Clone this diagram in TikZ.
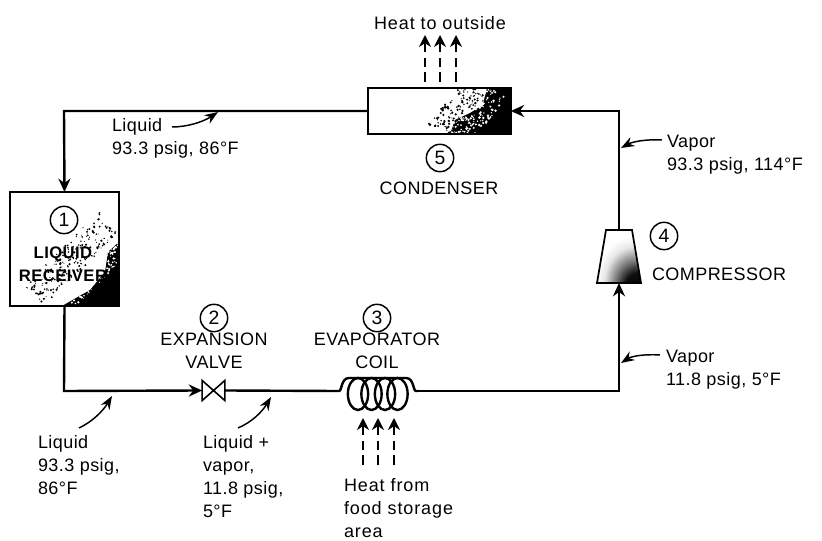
\documentclass[tikz,border=0pt]{standalone}
\usepackage{fontspec}
\setmainfont[LetterSpace=2.5]{Liberation Sans}
\newfontfamily\widefont[LetterSpace=5]{Liberation Sans}
\usetikzlibrary{arrows.meta,calc}
\pgfdeclareradialshading{smalldark}{\pgfpoint{25bp}{-36bp}}{
  rgb(0bp)=(0,0,0); rgb(15bp)=(.05,.05,.05); rgb(24bp)=(.5,.5,.5); rgb(33bp)=(.9,.9,.9); rgb(40bp)=(1,1,1); rgb(100bp)=(1,1,1)}
\begin{document}
\begin{tikzpicture}[x=.75pt,y=-.75pt,
  every node/.style={inner sep=0pt,outer sep=0pt},
  txt/.style={font=\fontsize{13.5}{17.4}\selectfont,align=left,text=black},
  widetxt/.style={font=\fontsize{13.5}{17.4}\selectfont\widefont,align=left,text=black},
  ctr/.style={font=\fontsize{13.5}{17.4}\selectfont,align=center},
  numc/.style={draw,circle,line width=1.1pt,minimum size=20.5pt,font=\fontsize{14.5}{14.5}\selectfont},
  pipe/.style={line width=1.8pt,line join=miter},
  flow/.style={pipe,-{Stealth[length=10pt,width=9pt]}},
  pointer/.style={line width=1.1pt,-{Stealth[length=10pt,width=7.5pt]}},
  heatdash/.style={line width=2pt,dash pattern=on 7.5pt off 3.5pt},
  heattip/.style={line width=1.8pt,-{Stealth[length=9pt,width=9pt]}},
  unit/.style={draw,line width=1.3pt},
  speck/.style={fill=black},
  wspeck/.style={fill=white}]
\useasboundingbox (0,0) rectangle (822,541);
\pgfmathsetseed{4217}
% condenser
\node[unit,fill=white,minimum width=107pt,minimum height=34.5pt] (cond) at (439.5,111) {};
\begin{scope}
  \clip (cond.north west) rectangle (cond.south east);
  \fill[black] (450,134) -- (455,120) -- (470,113) -- (483,105) -- (487,88) -- (511,88) -- (511,134) -- cycle;
  \foreach \i in {1,...,150}{
    \pgfmathsetmacro{\t}{rnd}
    \pgfmathsetmacro{\s}{rnd*26-4}
    \pgfmathsetmacro{\r}{.35+rnd*.7}
    \pgfmathsetmacro{\px}{488-\t*38-\s}
    \pgfmathsetmacro{\py}{88+\t*46-\s*.45}
    \fill[speck] (\px,\py) circle (\r pt);
    \pgfmathsetmacro{\t}{rnd}
    \pgfmathsetmacro{\s}{rnd*24-4}
    \pgfmathsetmacro{\qx}{488-\t*38+\s}
    \pgfmathsetmacro{\qy}{88+\t*46+\s*.45}
    \fill[wspeck] (\qx,\qy) circle (\r pt);
  }
\end{scope}
\draw[line width=1.3pt] (cond.north west) rectangle (cond.south east);
% receiver
\node[unit,fill=white,minimum width=82pt,minimum height=85.5pt] (recv) at (64.5,249) {};
\begin{scope}
  \clip (recv.north west) rectangle (recv.south east);
  \fill[black] (119,242) -- (108,252) -- (105,272) -- (90,290) -- (62,306) -- (119,306) -- cycle;
  \foreach \i in {1,...,210}{
    \pgfmathsetmacro{\t}{rnd}
    \pgfmathsetmacro{\s}{rnd*20-20}
    \pgfmathsetmacro{\r}{.35+rnd*.6}
    \pgfmathsetmacro{\px}{119-\t*75+\s}
    \pgfmathsetmacro{\py}{232+\t*74+\s}
    \fill[speck] (\px,\py) circle (\r pt);
    \pgfmathsetmacro{\t}{rnd}
    \pgfmathsetmacro{\s}{rnd*16}
    \pgfmathsetmacro{\qx}{119-\t*75+\s}
    \pgfmathsetmacro{\qy}{232+\t*74+\s}
    \fill[wspeck] (\qx,\qy) circle (\r pt);
  }
\end{scope}
\draw[line width=1.3pt] (recv.north west) rectangle (recv.south east);
% compressor and valve
\node[minimum width=33pt,minimum height=39.7pt] (comp) at (619,256.5) {};
\draw[unit,shading=smalldark] (comp.south west) -- (comp.south east) -- ($(comp.north east)+(-9,0)$) -- ($(comp.north west)+(9,0)$) -- cycle;
\node[minimum width=17pt,minimum height=15pt] (valve) at (213.5,390.5) {};
\draw[line width=1.2pt] (valve.north west) -- (valve.south east) -- (valve.north east) -- (valve.south west) -- cycle;
% coil
\coordinate (coilL) at (337,391);
\coordinate (coilR) at (418,391);
\foreach \cx in {358,371.5,385,397.5}
  \draw[line width=1.8pt] (\cx,394) ellipse [x radius=7.6pt,y radius=12pt];
\draw[pipe] (coilL) -- (339,391) .. controls (342,391) and (341,378) .. (349,378) -- (406,378) .. controls (414,378) and (413,391) .. (416,391) -- (coilR);
% corners
\coordinate (tl) at (64,111);
\coordinate (bl) at (64,391);
\coordinate (br) at (619,391);
\coordinate (tr) at (619,111);
% loop
\draw[flow] (cond.west) -- (tl) -- (recv.north);
\draw[flow] (recv.south) -- (bl) -- (valve.west);
\draw[pipe] (valve.east) -- (coilL);
\draw[flow] (coilR) -- (br) -- (comp.south);
\draw[flow] (comp.north) -- (tr) -- (cond.east);
% number circles and names
\node[numc] (n1) at (64,220) {1};
\node[ctr,font=\fontsize{12.5}{17.4}\selectfont\bfseries] (recvname) at (63,264) {LIQUID\\RECEIVER};
\node[numc] (n2) at (214,318) {2};
\node[ctr] (valvename) at (214,351) {EXPANSION\\VALVE};
\node[numc] (n3) at (377,318) {3};
\node[ctr] (coilname) at (377,351) {EVAPORATOR\\COIL};
\node[numc] (n4) at (664,236) {4};
\node[txt,anchor=west] (compname) at (652,274) {COMPRESSOR};
\node[numc] (n5) at (440,158) {5};
\node[ctr] (condname) at (439,188) {CONDENSER};
% heat
\node[widetxt] (hout) at (440,23) {Heat to outside};
\foreach \hx in {425,440,456}{
  \draw[heatdash] (\hx,82) -- (\hx,58);
  \draw[heattip] (\hx,52) -- (\hx,35);
}
\foreach \hx in {363,378,394}{
  \draw[heatdash] (\hx,465) -- (\hx,441);
  \draw[heattip] (\hx,435) -- (\hx,418);
}
\node[widetxt,anchor=north west] (hin) at (344,478.5) {Heat from\\food storage\\area};
% state labels
\node[txt,anchor=north west] (s1) at (112,118) {Liquid\\93.3 psig, 86°F};
\coordinate (s1a) at (172,127);
\coordinate (s1b) at (218,112);
\draw[pointer] (s1a) .. controls (187,127) and (203,122) .. (s1b);
\node[txt,anchor=north west] (s2) at (667,135) {Vapor\\93.3 psig, 114°F};
\coordinate (s2a) at (662,140);
\coordinate (s2b) at (621,148);
\draw[pointer] (s2a) .. controls (645,139) and (632,142) .. (s2b);
\node[txt,anchor=north west] (s3) at (666,350) {Vapor\\11.8 psig, 5°F};
\coordinate (s3a) at (660,355);
\coordinate (s3b) at (621,363);
\draw[pointer] (s3a) .. controls (645,354) and (632,356) .. (s3b);
\node[txt,anchor=north west] (s4) at (38,435) {Liquid\\93.3 psig,\\86°F};
\coordinate (s4a) at (79,428);
\coordinate (s4b) at (112,396);
\draw[pointer] (s4a) .. controls (92,422) and (103,411) .. (s4b);
\node[txt,anchor=north west] (s5) at (203,435) {Liquid +\\vapor,\\11.8 psig,\\5°F};
\coordinate (s5a) at (238,428);
\coordinate (s5b) at (271,397);
\draw[pointer] (s5a) .. controls (252,422) and (262,412) .. (s5b);
\end{tikzpicture}
\end{document}
